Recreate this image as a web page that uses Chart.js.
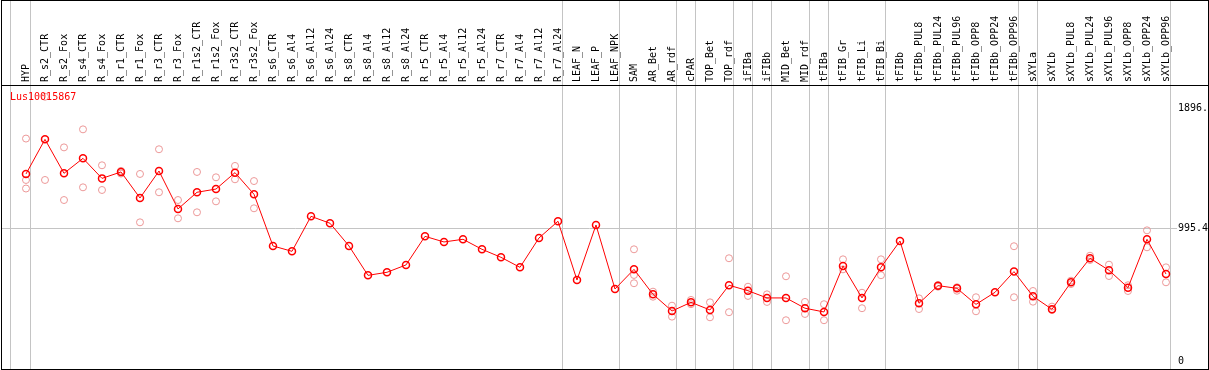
<!DOCTYPE html>
<html>
<head>
<meta charset="utf-8">
<script src="https://cdn.jsdelivr.net/npm/chart.js@4.4.1/dist/chart.umd.min.js"></script>
<style>
  html, body { margin: 0; padding: 0; background: #fff; }
  canvas { display: block; }
</style>
</head>
<body>
<canvas id="chart" width="1209" height="370"></canvas>
<script>
// Sample names, in plot order
const samples = [
  'HYP', 'R_s2_CTR', 'R_s2_Fox', 'R_s4_CTR', 'R_s4_Fox', 'R_r1_CTR', 'R_r1_Fox',
  'R_r3_CTR', 'R_r3_Fox', 'R_r1s2_CTR', 'R_r1s2_Fox', 'R_r3s2_CTR', 'R_r3s2_Fox',
  'R_s6_CTR', 'R_s6_Al4', 'R_s6_Al12', 'R_s6_Al24', 'R_s8_CTR', 'R_s8_Al4',
  'R_s8_Al12', 'R_s8_Al24', 'R_r5_CTR', 'R_r5_Al4', 'R_r5_Al12', 'R_r5_Al24',
  'R_r7_CTR', 'R_r7_Al4', 'R_r7_Al12', 'R_r7_Al24', 'LEAF_N', 'LEAF_P', 'LEAF_NPK',
  'SAM', 'AR_Bet', 'AR_rdf', 'cPAR', 'TOP_Bet', 'TOP_rdf', 'iFIBa', 'iFIBb',
  'MID_Bet', 'MID_rdf', 'tFIBa', 'tFIB_Gr', 'tFIB_Li', 'tFIB_Bi', 'tFIBb',
  'tFIBb_PUL8', 'tFIBb_PUL24', 'tFIBb_PUL96', 'tFIBb_OPP8', 'tFIBb_OPP24', 'tFIBb_OPP96',
  'sXYLa', 'sXYLb', 'sXYLb_PUL8', 'sXYLb_PUL24', 'sXYLb_PUL96', 'sXYLb_OPP8',
  'sXYLb_OPP24', 'sXYLb_OPP96'
];

// last sample of each group (a separator line follows it)
const groupEnds = [
  'HYP', 'R_r7_Al24', 'LEAF_NPK', 'AR_rdf', 'cPAR', 'TOP_rdf', 'iFIBa', 'iFIBb',
  'MID_rdf', 'tFIBa', 'tFIB_Bi', 'tFIBb_OPP96', 'sXYLa', 'sXYLb_OPP96'
];

const geneName = 'Lus10015867';

// mean expression per sample
const means = [
  1402, 1661, 1407, 1519, 1369, 1417, 1222, 1424, 1140, 1265, 1289, 1412, 1250,
  863, 823, 1085, 1033, 863, 643, 666, 721, 935, 893, 913, 838, 778, 703, 923, 1048,
  608, 1020, 541,
  688, 501, 376, 441, 384, 569, 528, 474, 474, 397, 369, 713, 474, 703, 900,
  434, 566, 546, 426, 516, 671, 486, 389, 591, 771, 681, 551, 913, 653
];

// individual replicates (null = none shown)
const rep1 = [
  1667, 1980, 1601, 1736, 1467, 1425, 1402, 1587, 1207, 1417, 1377, 1462, 1349,
  null, null, null, null, null, null, null, null, null, null, null, null, null, null, null, null,
  null, null, null,
  838, 521, 416, 459, 441, 771, 558, 501, 636, 444, 427, 763, 513, 763, null,
  471, 570, 554, 479, null, 861, 526, 409, 603, 790, 723, 569, 980, 703
];
const rep2 = [
  1357, 1357, 1207, 1302, 1282, 1405, 1040, 1265, 1070, 1115, 1197, 1362, 1145,
  null, null, null, null, null, null, null, null, null, null, null, null, null, null, null, null,
  null, null, null,
  646, 483, 334, 427, 329, 367, 489, 444, 307, 354, 307, 688, 397, 644, null,
  391, 558, 528, 374, null, 479, 446, 384, 578, 758, 638, 526, 853, 591
];
const rep3 = [
  1293, null, null, null, null, null, null, null, null, null, null, null, null,
  null, null, null, null, null, null, null, null, null, null, null, null, null, null, null, null,
  null, null, null,
  584, null, null, null, null, null, null, null, null, null, null, null, null, null, null,
  null, null, null, null, null, null, null, null, null, null, null, null, null, null
];

const yTicks = [0, 995.4, 1896];
const yTickLabels = ['0', '995.4', '1896.'];

const RED = '#ff0000';
const PINK = '#ec9898';
const GRID = '#c4c4c4';
const NONE = 'rgba(0,0,0,0)';
const FONT = { family: 'DejaVu Sans Mono', size: 10 };

const X_MIN = -1.263, X_MAX = 60.579;

function toPoints(arr) {
  return arr.map((v, i) => (v === null ? null : { x: i, y: v })).filter(p => p);
}

function repSet(arr) {
  return {
    data: toPoints(arr),
    showLine: false,
    pointRadius: 3.5,
    pointBorderWidth: 1,
    pointBorderColor: PINK,
    pointBackgroundColor: NONE,
    order: 1
  };
}

// x ticks: one per sample (label) + one per group separator (grid line)
const sepValues = [-0.8].concat(groupEnds.map(n => samples.indexOf(n) + 0.24));
const xTickValues = [X_MIN].concat(samples.map((s, i) => i), sepValues).sort((a, b) => a - b);

// Frame + gene name
const framePlugin = {
  id: 'frame',
  afterDraw(chart) {
    const c = chart.ctx;
    const W = chart.width, H = chart.height;
    c.save();
    c.fillStyle = '#000';
    c.fillRect(1, 0, W - 2, 1);
    c.fillRect(1, 0, 1, H);
    c.fillRect(W - 1, 0, 1, H);
    c.fillRect(1, H - 1, W - 2, 1);
    c.fillRect(1, chart.chartArea.top, W - 2, 1);
    c.fillStyle = RED;
    c.font = '10px "DejaVu Sans Mono"';
    c.textBaseline = 'middle';
    c.fillText(geneName, 10, 97);
    c.restore();
  }
};

new Chart(document.getElementById('chart'), {
  type: 'line',
  data: {
    datasets: [
      {
        data: toPoints(means),
        borderColor: RED,
        borderWidth: 1,
        pointRadius: 3.5,
        pointBorderWidth: 1.5,
        pointBorderColor: RED,
        pointBackgroundColor: NONE,
        tension: 0,
        order: 0
      },
      repSet(rep1),
      repSet(rep2),
      repSet(rep3)
    ]
  },
  options: {
    responsive: false,
    animation: false,
    layout: { autoPadding: false, padding: { left: 2, top: 0, right: 1, bottom: 1 } },
    plugins: { legend: { display: false }, tooltip: { enabled: false } },
    scales: {
      x: {
        type: 'linear',
        position: 'top',
        min: X_MIN,
        max: X_MAX,
        afterBuildTicks: s => { s.ticks = xTickValues.map(v => ({ value: v })); },
        afterFit: s => { s.height = 85; s.paddingLeft = 0; s.paddingRight = 0; },
        ticks: {
          autoSkip: false,
          minRotation: 90,
          maxRotation: 90,
          padding: -82,
          labelOffset: 12,
          color: '#000',
          font: FONT,
          callback: v => (Number.isInteger(v) ? samples[v] : '')
        },
        grid: {
          color: ctx => {
            const v = ctx.tick ? ctx.tick.value : 0;
            return sepValues.includes(v) ? GRID : NONE;
          },
          lineWidth: 1,
          tickLength: 85
        },
        border: { display: false }
      },
      y: {
        position: 'right',
        min: -58,
        max: 2068,
        afterBuildTicks: s => { s.ticks = yTicks.map(v => ({ value: v })); },
        afterFit: s => { s.width = 31; s.paddingTop = 0; s.paddingBottom = 0; },
        ticks: {
          padding: 1,
          color: '#000',
          font: FONT,
          callback: (v, i) => yTickLabels[i]
        },
        grid: {
          color: ctx => (ctx.tick && ctx.tick.value === 995.4 ? GRID : NONE),
          drawTicks: false
        },
        border: { display: false }
      }
    }
  },
  plugins: [framePlugin]
});
</script>
</body>
</html>
